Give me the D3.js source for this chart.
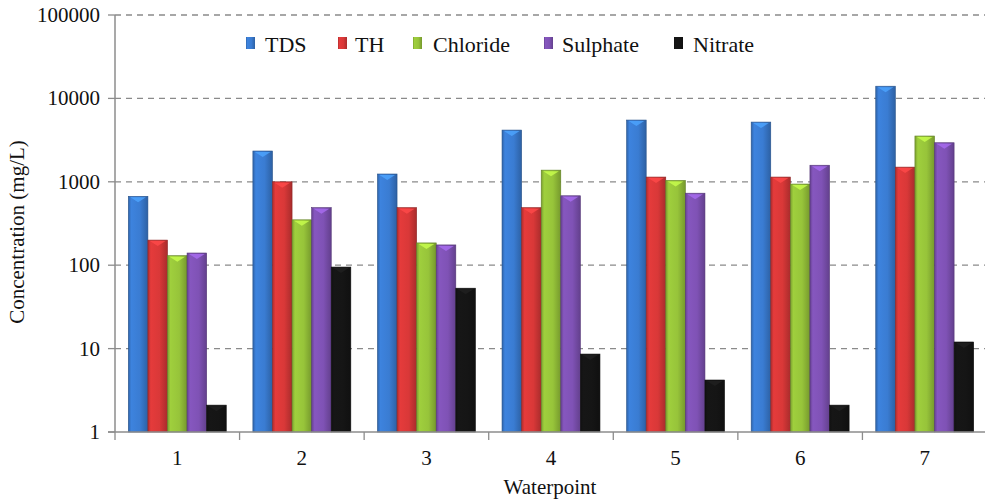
<!DOCTYPE html>
<html><head><meta charset="utf-8">
<script src="https://cdn.jsdelivr.net/npm/d3@7"></script>
<style>body{margin:0;background:#fff}svg{display:block}</style>
</head><body>
<svg id="chart" width="985" height="500"></svg>
<script>
const categories = ["1","2","3","4","5","6","7"];
const series = ["TDS","TH","Chloride","Sulphate","Nitrate"];
const TDS      = [670, 2340, 1240, 4170, 5500, 5200, 14000];
const TH       = [200, 1000, 490, 490, 1140, 1140, 1500];
const Chloride = [130, 350, 185, 1380, 1040, 940, 3540];
const Sulphate = [140, 490, 175, 680, 730, 1580, 2940];
const Nitrate  = [2.1, 95, 53, 8.6, 4.2, 2.1, 12];
const yTicks = [1, 10, 100, 1000, 10000, 100000];
const colors = {TDS:"#3a7cd2", TH:"#d93838", Chloride:"#97c43a", Sulphate:"#7f52b5", Nitrate:"#151515"};
const values = {TDS, TH, Chloride, Sulphate, Nitrate};

const FONT = "Liberation Serif";
const svg = d3.select("#chart");
const L = 115, R = 987, T = 15, B = 432;

const x = d3.scaleBand().domain(categories).range([L, R]).padding(0);
const x1 = d3.scaleBand().domain(series).range([0, x.bandwidth()]).paddingInner(0).paddingOuter(0.68);
const y = d3.scaleLog().domain([1, 100000]).range([B, T]);

const defs = svg.append("defs");
series.forEach(s => {
  const c = d3.color(colors[s]);
  const g = defs.append("linearGradient").attr("id", "g_" + s).attr("x1", 0).attr("x2", 1).attr("y1", 0).attr("y2", 0);
  g.append("stop").attr("offset", "0%").attr("stop-color", c.darker(0.6));
  g.append("stop").attr("offset", "15%").attr("stop-color", c.brighter(0.15));
  g.append("stop").attr("offset", "60%").attr("stop-color", c);
  g.append("stop").attr("offset", "100%").attr("stop-color", c.darker(0.7));
});

svg.append("g").selectAll("line").data(yTicks.filter(t => t > 1)).join("line")
  .attr("x1", L).attr("x2", 985).attr("y1", d => y(d)).attr("y2", d => y(d))
  .attr("stroke", "#8a8a8a").attr("stroke-width", 1.3).attr("stroke-dasharray", "6,5");

const groups = svg.append("g").selectAll("g").data(categories).join("g")
  .attr("transform", d => `translate(${x(d)},0)`);
groups.each(function(cat, i) {
  const g = d3.select(this);
  series.forEach(s => {
    const v = values[s][i];
    const bx = x1(s), bw = x1.bandwidth(), top = y(v);
    g.append("rect").attr("x", bx).attr("y", top).attr("width", bw).attr("height", B - top)
      .attr("fill", `url(#g_${s})`).attr("stroke", d3.color(colors[s]).darker(1.2)).attr("stroke-width", 0.6);
    const lc = d3.color(colors[s]).brighter(s === "Nitrate" ? 1.2 : 0.8);
    g.append("path").attr("d", `M${bx+2},${top+1}L${bx+bw-2},${top+1}L${bx+bw/2},${top+6}Z`)
      .attr("fill", lc).attr("opacity", 0.8);
  });
});

const axisColor = "#8c8c8c";
svg.append("line").attr("x1", L).attr("x2", L).attr("y1", T).attr("y2", B).attr("stroke", axisColor).attr("stroke-width", 1.5);
svg.append("line").attr("x1", L - 7).attr("x2", 985).attr("y1", B).attr("y2", B).attr("stroke", axisColor).attr("stroke-width", 1.5);
svg.append("g").selectAll("line").data(yTicks).join("line")
  .attr("x1", L - 7).attr("x2", L).attr("y1", d => y(d)).attr("y2", d => y(d)).attr("stroke", axisColor).attr("stroke-width", 1.3);
svg.append("g").selectAll("text").data(yTicks).join("text")
  .attr("x", 100).attr("y", d => y(d) + 7).attr("text-anchor", "end")
  .attr("font-family", FONT).attr("font-size", 21).attr("fill", "#111").text(d => d);
svg.append("g").selectAll("line").data(categories).join("line")
  .attr("x1", d => x(d)).attr("x2", d => x(d)).attr("y1", B).attr("y2", B + 8).attr("stroke", axisColor).attr("stroke-width", 1.3);
svg.append("g").selectAll("text").data(categories).join("text")
  .attr("x", d => x(d) + x.bandwidth() / 2).attr("y", 465).attr("text-anchor", "middle")
  .attr("font-family", FONT).attr("font-size", 21).attr("fill", "#111").text(d => d);

svg.append("text").attr("x", 550).attr("y", 494).attr("text-anchor", "middle")
  .attr("font-family", FONT).attr("font-size", 21).attr("fill", "#111").text("Waterpoint");
svg.append("text").attr("transform", "translate(24,232) rotate(-90)").attr("text-anchor", "middle")
  .attr("font-family", FONT).attr("font-size", 21).attr("fill", "#111").text("Concentration (mg/L)");

const legX = [246, 338, 413, 544, 674];
const legT = [265, 355, 433, 562, 693];
const leg = svg.append("g").selectAll("g").data(series).join("g");
leg.append("rect").attr("x", (d, i) => legX[i]).attr("y", 37).attr("width", 9).attr("height", 12).attr("fill", d => `url(#g_${d})`);
leg.append("text").attr("x", (d, i) => legT[i]).attr("y", 52)
  .attr("font-family", FONT).attr("font-size", 22).attr("fill", "#111").text(d => d);
</script>
</body></html>
